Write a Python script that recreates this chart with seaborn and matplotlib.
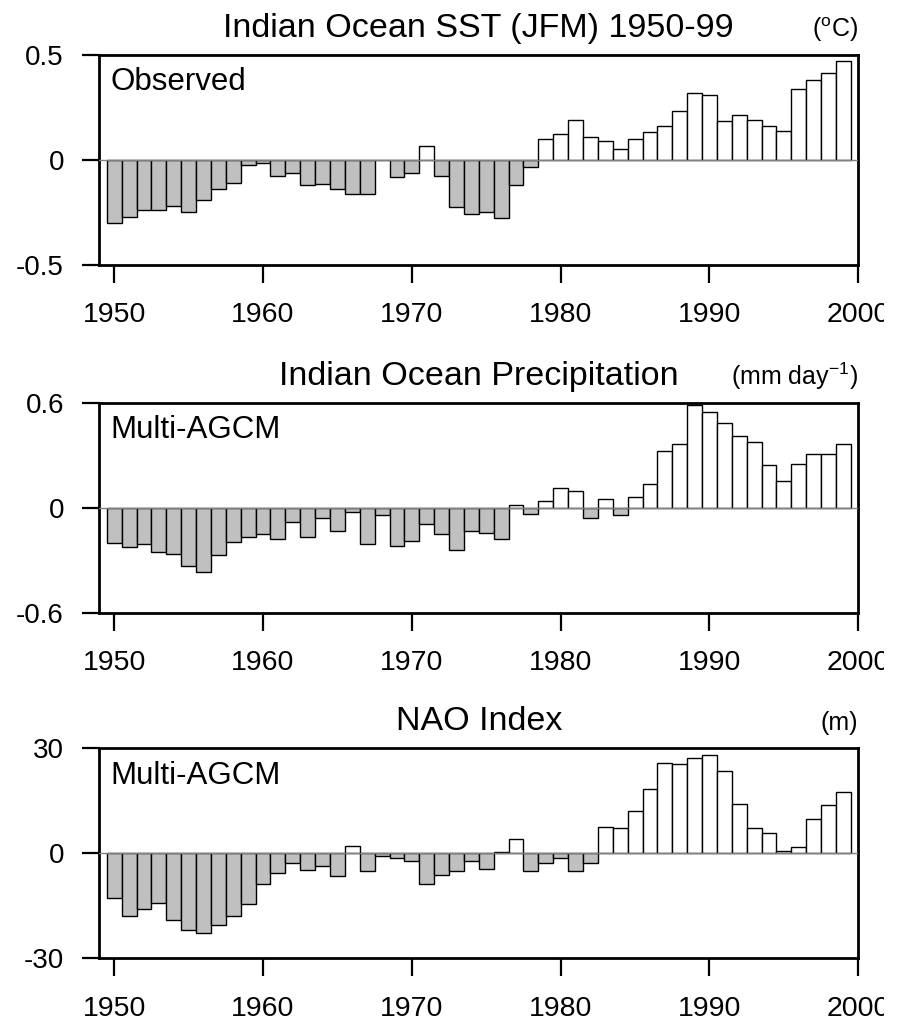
"""
Indian Ocean SST / precipitation and NAO index anomalies, JFM 1950-99.
Three stacked bar panels, negative years shaded grey.
"""

import numpy as np
import pandas as pd
import matplotlib
matplotlib.use("Agg")
import matplotlib.pyplot as plt
from matplotlib.transforms import Bbox, TransformedBbox
import seaborn as sns

# ---------------------------------------------------------------------------
# Data
# ---------------------------------------------------------------------------
YEARS = list(range(1950, 2000))

SST_OBS = [
    -0.300, -0.270, -0.240, -0.240, -0.220, -0.250, -0.190, -0.140, -0.110, -0.025,
    -0.012, -0.075, -0.060, -0.117, -0.112, -0.136, -0.161, -0.164, -0.002, -0.080,
    -0.060, 0.068, -0.076, -0.225, -0.255, -0.250, -0.277, -0.119, -0.032, 0.098,
    0.125, 0.190, 0.108, 0.092, 0.052, 0.098, 0.131, 0.161, 0.234, 0.321,
    0.310, 0.185, 0.214, 0.190, 0.161, 0.139, 0.339, 0.381, 0.413, 0.473,
]

PRECIP_AGCM = [
    -0.204, -0.227, -0.210, -0.255, -0.267, -0.333, -0.366, -0.270, -0.198, -0.168,
    -0.150, -0.179, -0.082, -0.170, -0.057, -0.133, -0.023, -0.208, -0.042, -0.219,
    -0.190, -0.091, -0.152, -0.242, -0.133, -0.147, -0.179, 0.017, -0.034, 0.040,
    0.114, 0.097, -0.057, 0.051, -0.044, 0.063, 0.133, 0.322, 0.362, 0.589,
    0.545, 0.484, 0.408, 0.375, 0.242, 0.150, 0.251, 0.305, 0.305, 0.366,
]

NAO_AGCM = [
    -12.9, -17.8, -16.0, -14.2, -19.1, -21.9, -22.7, -20.4, -17.9, -14.6,
    -8.9, -5.7, -2.9, -4.8, -3.7, -6.4, 2.2, -5.0, -0.7, -1.3,
    -2.1, -8.8, -6.1, -5.1, -2.2, -4.4, 0.5, 4.0, -5.0, -2.8,
    -1.2, -5.0, -2.8, 7.6, 7.3, 12.1, 18.4, 25.9, 25.4, 27.2,
    28.1, 23.6, 14.1, 7.2, 5.8, 0.7, 1.8, 9.9, 13.9, 17.5,
]

TITLES = ["Indian Ocean SST (JFM) 1950-99", "Indian Ocean Precipitation", "NAO Index"]
UNITS = [r"($^{\mathrm{o}}$C)", r"(mm day$^{\mathrm{-1}}$)", "(m)"]
PANEL_LABELS = ["Observed", "Multi-AGCM", "Multi-AGCM"]
YTICKS = [[-0.5, 0, 0.5], [-0.6, 0, 0.6], [-30, 0, 30]]
YTICKLABELS = [["-0.5", "0", "0.5"], ["-0.6", "0", "0.6"], ["-30", "0", "30"]]
XTICKS = [1950, 1960, 1970, 1980, 1990, 2000]

# ---------------------------------------------------------------------------
# Style
# ---------------------------------------------------------------------------
NEG_COLOR = "#c0c0c0"
POS_COLOR = "white"
ZERO_COLOR = "#808080"

sns.set_theme(style="ticks")
plt.rcParams["font.family"] = ["Liberation Sans", "DejaVu Sans"]
plt.rcParams["mathtext.fontset"] = "custom"
plt.rcParams["mathtext.rm"] = "Liberation Sans"
plt.rcParams["mathtext.it"] = "Liberation Sans:italic"
plt.rcParams["text.color"] = "black"
plt.rcParams["xtick.labelcolor"] = "black"
plt.rcParams["ytick.labelcolor"] = "black"

W, H = 904, 1021
AX_LEFT, AX_RIGHT = 99.3, 858.3
AX_HEIGHT = 210
PANEL_TOPS = [55, 402.7, 748.3]


def draw_panel(ax, values, title, unit, label, yticks, yticklabels):
    df = pd.DataFrame({"year": YEARS, "value": values})
    df["sign"] = np.where(df["value"] < 0, "neg", "pos")
    sns.barplot(data=df, x="year", y="value", hue="sign",
                palette={"neg": NEG_COLOR, "pos": POS_COLOR},
                dodge=False, native_scale=True, width=1.0,
                edgecolor="black", linewidth=1.0, errorbar=None,
                legend=False, ax=ax)
    ax.axhline(0, color=ZERO_COLOR, lw=1.0, zorder=3)

    ax.set_xlim(1949, 2000)
    ax.set_ylim(yticks[0], yticks[-1])
    ax.set_xticks(XTICKS)
    ax.set_xticklabels([str(x) for x in XTICKS])
    ax.set_yticks(yticks)
    ax.set_yticklabels(yticklabels)
    ax.set_xlabel("")
    ax.set_ylabel("")

    for spine in ax.spines.values():
        spine.set_visible(True)
        spine.set_color("black")
        spine.set_linewidth(2.0)
    ax.tick_params(axis="x", direction="out", length=13, width=1.6,
                   labelsize=20.5, pad=14, color="black", labelcolor="black")
    ax.tick_params(axis="y", direction="out", length=12.5, width=1.6,
                   labelsize=20, pad=13, color="black", labelcolor="black")

    ax.text(0.5, 1.086, title, transform=ax.transAxes, ha="center",
            va="baseline", fontsize=24.5, color="black")
    ax.text(1.0, 1.086, unit, transform=ax.transAxes, ha="right",
            va="baseline", fontsize=18, color="black")
    ax.text(0.015, 0.831, label, transform=ax.transAxes, ha="left",
            va="baseline", fontsize=22.5, color="black")


def main():
    fig = plt.figure(figsize=(W / 100, H / 100), dpi=100)
    series = [SST_OBS, PRECIP_AGCM, NAO_AGCM]

    # the original is cut off through the last "2000" label
    clip = TransformedBbox(Bbox([[0, 0], [884 / W, 1]]), fig.transFigure)

    for i, vals in enumerate(series):
        top = PANEL_TOPS[i]
        rect = [AX_LEFT / W, 1 - (top + AX_HEIGHT) / H,
                (AX_RIGHT - AX_LEFT) / W, AX_HEIGHT / H]
        ax = fig.add_axes(rect)
        draw_panel(ax, vals, TITLES[i], UNITS[i], PANEL_LABELS[i],
                   YTICKS[i], YTICKLABELS[i])
        for lbl in ax.get_xticklabels():
            lbl.set_clip_box(clip)
            lbl.set_clip_on(True)

    fig.savefig("out.png", dpi=100)
    plt.close(fig)


if __name__ == "__main__":
    main()
